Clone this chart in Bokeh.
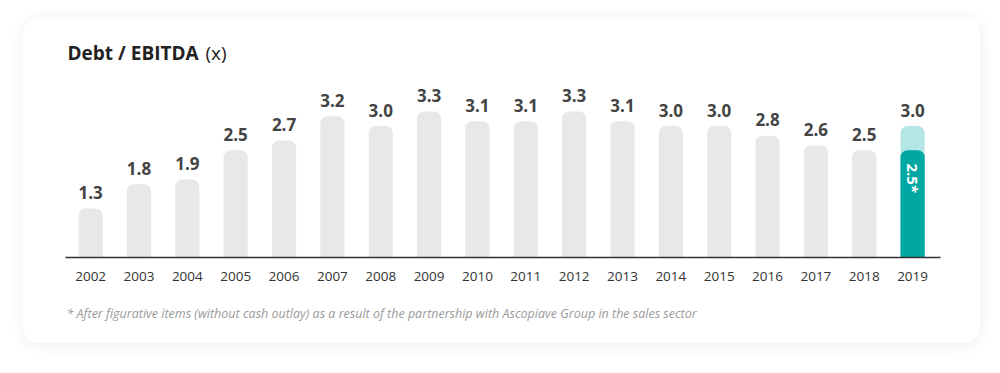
from bokeh.plotting import figure
from bokeh.models import Range1d, FixedTicker, Label, ColumnDataSource, Title
from bokeh.core.properties import value
from bokeh.embed import file_html
from bokeh.resources import INLINE
import math

years = [2002, 2003, 2004, 2005, 2006, 2007, 2008, 2009, 2010,
         2011, 2012, 2013, 2014, 2015, 2016, 2017, 2018, 2019]
ratio = [1.3, 1.8, 1.9, 2.5, 2.7, 3.2, 3.0, 3.3, 3.1,
         3.1, 3.3, 3.1, 3.0, 3.0, 2.8, 2.6, 2.5, 3.0]
ratio_labels = [f"{v:.1f}" for v in ratio]
adjusted_year = [2019]
adjusted_ratio = [2.5]
adjusted_labels = ["2.5*"]
title_main = "Debt / EBITDA"
title_unit = "(x)"
footnote = ("* After figurative items (without cash outlay) as a result of the "
            "partnership with Ascopiave Group in the sales sector")

FONT = "Open Sans"
Y0 = 0.29
PX = 48.5          # pixels per unit (vertical)
XPX = 48.35        # pixels per year (horizontal)
X0 = 2001.48


def dx(px):
    return X0 + (px - 65) / XPX


def dy(py):
    return Y0 + (257 - py) / PX


p = figure(width=957, height=326, output_backend="svg", toolbar_location=None,
           x_range=Range1d(X0, X0 + 875 / XPX), y_range=Range1d(Y0, dy(17)),
           min_border_left=42, min_border_right=40, min_border_top=0, min_border_bottom=86,
           margin=(17, 20, 0, 23),
           styles={"box-shadow": "0 2px 16px rgba(0,0,0,0.07)", "border-radius": "16px",
                   "overflow": "hidden"})
p.outline_line_color = None
p.background_fill_color = "white"
p.border_fill_color = "white"
p.grid.visible = False
p.yaxis.visible = False

xa = p.xaxis[0]
xa.ticker = FixedTicker(ticks=years)
xa.major_label_overrides = {y: str(y) for y in years}
xa.axis_line_color = "#333333"
xa.axis_line_width = 1.5
xa.major_tick_line_color = None
xa.minor_tick_line_color = None
xa.major_label_text_font = FONT
xa.major_label_text_font_size = "13.5px"
xa.major_label_text_color = "#333333"
xa.major_label_standoff = 8

src = ColumnDataSource(dict(x=years[:-1], top=ratio[:-1]))
p.vbar(x="x", top="top", bottom=0, width=0.5, source=src, fill_color="#e8e8e8",
       line_color=None, border_radius=(7, 7, 0, 0))

# 2019 reported (light) and adjusted (dark)
p.vbar(x=[years[-1]], top=[ratio[-1]], bottom=0, width=0.5, fill_color="#b3e6e5",
       line_color=None, border_radius=(7, 7, 0, 0))
p.vbar(x=adjusted_year, top=adjusted_ratio, bottom=0, width=0.5, fill_color="#00a7a3",
       line_color=None, border_radius=(7, 7, 0, 0))

p.text(x=years, y=ratio, text=ratio_labels, text_font=value(FONT), text_font_style="bold",
       text_font_size="17px", text_color="#444444", text_align="center",
       text_baseline="middle", y_offset=-16)

p.text(x=adjusted_year, y=adjusted_ratio, text=adjusted_labels, text_font=value(FONT),
       text_font_style="bold", text_font_size="15px", text_color="white",
       text_align="center", text_baseline="middle", angle=-math.pi / 2, y_offset=28)

p.add_layout(Label(x=dx(67), y=dy(52), text=title_main, text_font=FONT,
                   text_font_style="bold", text_font_size="19px", text_color="#222222",
                   text_baseline="middle"))
p.add_layout(Label(x=dx(205), y=dy(52), text=title_unit, text_font=FONT,
                   text_font_size="19px", text_color="#222222", text_baseline="middle"))

p.add_layout(Title(text=footnote, text_font=FONT, text_font_style="italic",
                   text_font_size="12.5px", text_color="#9a9a9a", align="left",
                   offset=1, standoff=39), "below")

open("out.html", "w").write(file_html(p, INLINE))
